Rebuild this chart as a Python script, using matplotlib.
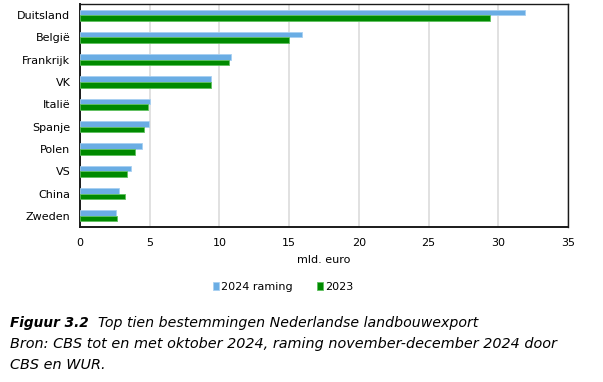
import numpy as np
import matplotlib
matplotlib.use('Agg')
import matplotlib.pyplot as plt

# landen van boven naar beneden
landen = ['Duitsland', 'België', 'Frankrijk', 'VK', 'Italië',
          'Spanje', 'Polen', 'VS', 'China', 'Zweden']
raming_2024 = [31.9, 15.9, 10.85, 9.4, 5.0, 4.93, 4.45, 3.68, 2.82, 2.58]
waarde_2023 = [29.4, 15.0, 10.7, 9.4, 4.85, 4.6, 3.97, 3.37, 3.23, 2.63]

blauw = '#6aade4'
groen = '#008a00'

fig = plt.figure(figsize=(6.03, 3.82), dpi=100)
ax = fig.add_axes([0.1327, 0.4058, 0.8093, 0.5837])

y = np.arange(len(landen))
h = 0.25
ax.barh(y - h/2, raming_2024, height=h, color=blauw, edgecolor='#a8d0f2',
        linewidth=0.6, label='2024 raming', zorder=3)
ax.barh(y + h/2, waarde_2023, height=h, color=groen, edgecolor='#5fc05f',
        linewidth=0.6, label='2023', zorder=3)

ax.set_ylim(len(landen) - 0.5, -0.5)
ax.set_xlim(0, 35)
ax.set_yticks(y)
ax.set_yticklabels(landen, fontsize=8)
ax.set_xticks(range(0, 36, 5))
ax.tick_params(axis='x', labelsize=8, length=0, pad=8)
ax.tick_params(axis='y', length=0, pad=7)
ax.grid(axis='x', color='#dcdcdc', linewidth=1.2, zorder=0)
for s in ax.spines.values():
    s.set_color('#1a1a1a')
    s.set_linewidth(1.0)
ax.spines['left'].set_linewidth(1.4)
ax.spines['bottom'].set_linewidth(1.4)
ax.set_xlabel('mld. euro', fontsize=8, labelpad=5)

fig.legend(loc='center', bbox_to_anchor=(0.47, 0.25), ncol=2, frameon=False,
           fontsize=8, handlelength=0.5, handleheight=0.7, handletextpad=0.2,
           columnspacing=2.2)

fig.text(0.017, 0.155, 'Figuur 3.2', fontsize=9.8, fontweight='bold',
         style='italic', va='center')
fig.text(0.162, 0.155, 'Top tien bestemmingen Nederlandse landbouwexport',
         fontsize=10.2, style='italic', va='center')
fig.text(0.017, 0.1, 'Bron: CBS tot en met oktober 2024, raming november-december 2024 door',
         fontsize=10.4, style='italic', va='center')
fig.text(0.017, 0.045, 'CBS en WUR.', fontsize=10.4, style='italic', va='center')

fig.savefig('out.png', dpi=100)
